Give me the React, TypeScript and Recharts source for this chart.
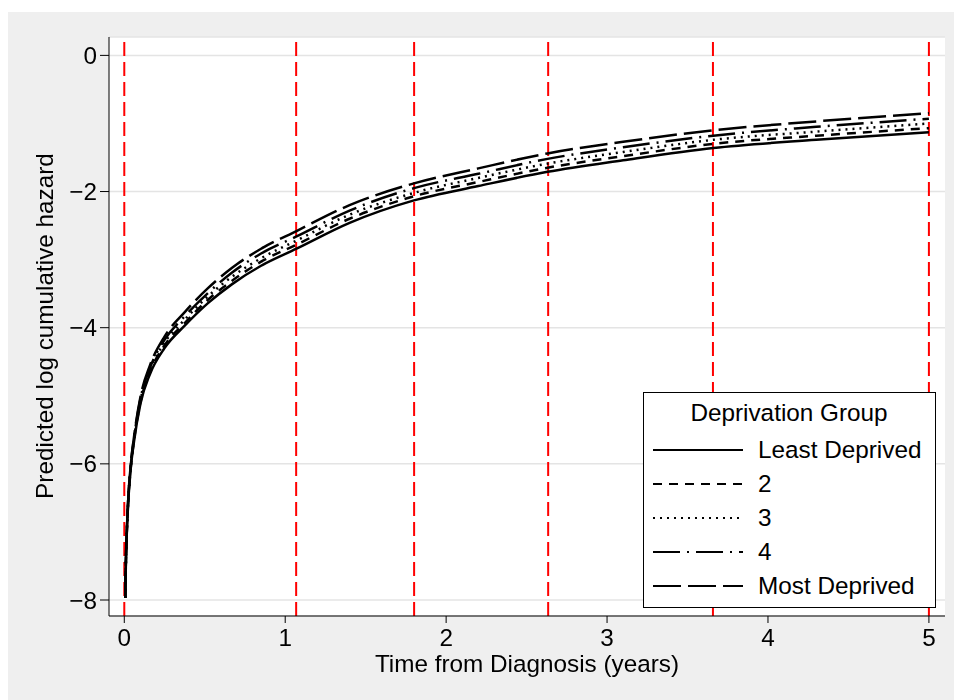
import React from "react";
import {
  LineChart,
  Line,
  XAxis,
  YAxis,
  CartesianGrid,
  ReferenceLine,
  Legend,
} from "recharts";

const FONT = "'Liberation Sans', Arial, sans-serif";
const FONT_SIZE = 24.3;

// years since diagnosis
const years = [
  0.006, 0.01, 0.02, 0.04, 0.06, 0.1, 0.16, 0.25, 0.38, 0.52, 0.67, 0.85, 1.07,
  1.4, 1.8, 2.2, 2.63, 3.1, 3.66, 4.3, 5,
];

// predicted log cumulative hazard by deprivation group
const leastDeprived = [
  -7.97, -7.45, -6.77, -6.07, -5.68, -5.12, -4.68, -4.3, -3.96, -3.64, -3.36,
  -3.09, -2.84, -2.46, -2.13, -1.92, -1.71, -1.54, -1.36, -1.24, -1.13,
];
const group2 = [
  -7.97, -7.45, -6.76, -6.06, -5.66, -5.1, -4.65, -4.26, -3.92, -3.59, -3.31,
  -3.03, -2.78, -2.4, -2.07, -1.86, -1.65, -1.48, -1.3, -1.18, -1.07,
];
const group3 = [
  -7.97, -7.44, -6.76, -6.05, -5.65, -5.07, -4.62, -4.22, -3.87, -3.54, -3.25,
  -2.98, -2.72, -2.34, -2.02, -1.8, -1.59, -1.42, -1.24, -1.12, -1.0,
];
const group4 = [
  -7.97, -7.44, -6.75, -6.03, -5.63, -5.05, -4.59, -4.18, -3.82, -3.49, -3.19,
  -2.91, -2.66, -2.28, -1.95, -1.74, -1.52, -1.35, -1.18, -1.05, -0.93,
];
const mostDeprived = [
  -7.97, -7.43, -6.74, -6.02, -5.61, -5.02, -4.55, -4.13, -3.76, -3.42, -3.12,
  -2.84, -2.58, -2.2, -1.88, -1.66, -1.44, -1.27, -1.1, -0.97, -0.85,
];

// spline knot positions (years)
const knots = [0, 1.068, 1.801, 2.634, 3.658, 5];

const xTicks = [0, 1, 2, 3, 4, 5];
const yTicks = [-8, -6, -4, -2, 0];

const series = [
  { key: "least", name: "Least Deprived", dash: undefined },
  { key: "g2", name: "2", dash: "9 7" },
  { key: "g3", name: "3", dash: "2 5" },
  { key: "g4", name: "4", dash: "27 7 2 7" },
  { key: "most", name: "Most Deprived", dash: "28 7" },
];

const data = years.map((t, i) => ({
  t,
  least: leastDeprived[i],
  g2: group2[i],
  g3: group3[i],
  g4: group4[i],
  most: mostDeprived[i],
}));

const minus = (v: number) => (v < 0 ? `\u2212${Math.abs(v)}` : `${v}`);

const tickStyle = { fill: "#000", fontSize: FONT_SIZE, fontFamily: FONT };

const LegendBox = () => (
  <svg width={293} height={216} style={{ display: "block" }}>
    <rect x={0.5} y={0.5} width={292} height={215} fill="#fff" stroke="#000" />
    <text
      x={146}
      y={29}
      textAnchor="middle"
      fontSize={FONT_SIZE}
      fontFamily={FONT}
      fill="#000"
    >
      Deprivation Group
    </text>
    {series.map((s, i) => {
      const y = 58 + i * 34;
      return (
        <g key={s.key}>
          <line
            x1={10}
            x2={100}
            y1={y}
            y2={y}
            stroke="#000"
            strokeWidth={2}
            strokeDasharray={s.dash}
          />
          <text
            x={115}
            y={y + 8}
            fontSize={FONT_SIZE}
            fontFamily={FONT}
            fill="#000"
          >
            {s.name}
          </text>
        </g>
      );
    })}
  </svg>
);

const App = () => {
  return (
    <div style={{ paddingTop: 4 }}>
      <style>{"body{overflow:hidden}"}</style>
      {/* graph region background, runs to the window edge */}
      <div
        style={{
          position: "fixed",
          left: 8,
          top: 12,
          right: 0,
          bottom: 0,
          background: "#efefef",
          zIndex: -1,
        }}
      />
      <div style={{ width: 946, height: 688 }}>
        <LineChart
          width={946}
          height={688}
          data={data}
          margin={{ top: 25, right: 9, bottom: 0, left: 0 }}
        >
          <CartesianGrid
            vertical={false}
            fill="#fff"
            stroke="#e4e4e4"
            strokeWidth={1.5}
          />
          <XAxis
            dataKey="t"
            type="number"
            domain={[-0.095, 5.1]}
            ticks={xTicks}
            allowDataOverflow
            height={84}
            tickSize={7}
            tickMargin={6}
            tick={tickStyle}
            stroke="#000"
            label={{
              content: () => (
                <text
                  x={519}
                  y={660}
                  textAnchor="middle"
                  fontSize={FONT_SIZE}
                  fontFamily={FONT}
                  fill="#000"
                >
                  Time from Diagnosis (years)
                </text>
              ),
            }}
          />
          <YAxis
            type="number"
            domain={[-8.235, 0.27]}
            ticks={yTicks}
            allowDataOverflow
            width={101}
            tickSize={9}
            tickMargin={3}
            tick={tickStyle}
            tickFormatter={minus}
            stroke="#000"
            label={{
              content: () => (
                <text
                  x={0}
                  y={0}
                  transform="translate(45 314) rotate(-90)"
                  textAnchor="middle"
                  fontSize={FONT_SIZE}
                  fontFamily={FONT}
                  fill="#000"
                >
                  Predicted log cumulative hazard
                </text>
              ),
            }}
          />
          {knots.map((k) => (
            <ReferenceLine
              key={k}
              x={k}
              stroke="#ff0000"
              strokeWidth={2}
              strokeDasharray="14 6"
            />
          ))}
          {series.map((s) => (
            <Line
              key={s.key}
              dataKey={s.key}
              name={s.name}
              type="monotone"
              stroke="#000"
              strokeWidth={2.5}
              strokeDasharray={s.dash}
              dot={false}
              isAnimationActive={false}
            />
          ))}
          <Legend
            layout="vertical"
            align="center"
            verticalAlign="middle"
            content={() => <LegendBox />}
            wrapperStyle={{ left: 635, top: 380, width: 293, height: 216 }}
          />
        </LineChart>
      </div>
    </div>
  );
};

export default App;
